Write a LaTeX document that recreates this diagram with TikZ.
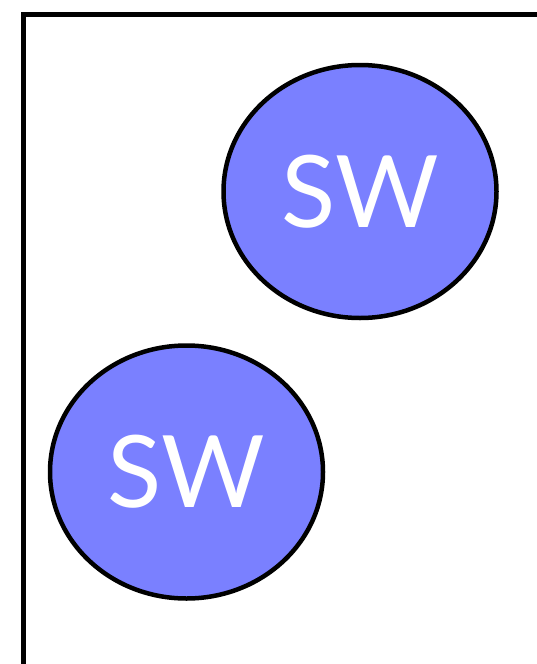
\documentclass[tikz,border=0pt]{standalone}
\usepackage{fontspec}
\setmainfont{Lato}
\usetikzlibrary{shapes.geometric}
\definecolor{swblue}{RGB}{122,128,255}
\begin{document}
\begin{tikzpicture}[x=1pt,y=-1pt,
		sw/.style={draw, ellipse, line width=4.5pt, fill=swblue, text=white,
			minimum width=273pt, minimum height=253pt, inner sep=0pt,
			font=\fontsize{100}{100}\selectfont}]
				\useasboundingbox (0,0) rectangle (536,664);
				\draw[line width=5pt] (23.5,14.8) rectangle (620,720);
				\node (up) [sw] at (360,191.5) {SW};
				\node (low) [sw, below of = up, node distance = 280.5pt, xshift = -173.5pt] {SW};
			\end{tikzpicture}
\end{document}
